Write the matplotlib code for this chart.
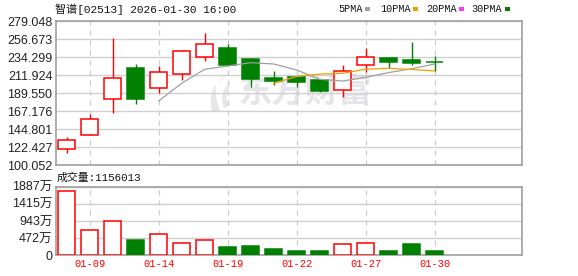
import numpy as np
import matplotlib
matplotlib.use('Agg')
from matplotlib import pyplot as plt
from matplotlib.patches import Rectangle, PathPatch
from matplotlib.path import Path

# datos (precios en HKD, volumen en 万)
dias = ['01-08', '01-09', '01-12', '01-13', '01-14', '01-15', '01-16', '01-19', '01-20',
        '01-21', '01-22', '01-23', '01-26', '01-27', '01-28', '01-29', '01-30']
apertura = [120.3, 138.3, 182.6, 220.9, 195.6, 213.0, 235.0, 245.8, 232.1,
            208.4, 209.3, 205.9, 193.5, 224.2, 233.3, 230.8, 228.0]
cierre = [131.2, 158.2, 208.0, 182.6, 215.5, 241.7, 250.4, 225.0, 207.5,
          205.0, 203.8, 192.6, 217.1, 234.2, 228.7, 227.5, 228.0]
maximo = [135.0, 164.4, 258.6, 225.9, 223.6, 243.2, 264.8, 250.8, 233.5,
          217.1, 209.5, 206.5, 224.6, 246.2, 233.3, 253.3, 235.8]
minimo = [115.4, 138.3, 165.2, 176.4, 190.2, 206.5, 229.2, 223.7, 197.6,
          200.4, 197.0, 191.3, 185.1, 215.5, 220.9, 225.0, 217.1]
volumen = [1760, 696, 943, 429, 578, 330, 421, 228, 256,
           182, 118, 118, 302, 330, 118, 311, 115.6]
sube = [True, True, True, False, True, True, True, False, False,
        False, False, False, True, True, False, False, False]

ma5 = [np.nan]*4 + [180.0, 202.0, 219.4, 223.5, 227.6, 226.0, 218.5, 207.0, 204.8,
                    209.4, 215.3, 220.0, 226.0]
ma10 = [np.nan]*9 + [202.0, 210.5, 213.4, 214.5, 219.5, 220.6, 219.2, 217.3]

ticks_precio = [100.052, 122.427, 144.801, 167.176, 189.550, 211.924, 234.299, 256.673, 279.048]
ticks_vol = [0, 471.75, 943.5, 1415.25, 1887]
etiquetas_vol = ['0', '472万', '943万', '1415万', '1887万']
dias_marcados = [1, 4, 7, 10, 13, 16]

titulo = '智谱[02513] 2026-01-30 16:00'
leyenda = ['5PMA', '10PMA', '20PMA', '30PMA']
colores_ma = ['#a0a0a0', '#f0a000', '#ff33ff', '#007a00']

rojo = '#ff0000'
verde = '#008000'
grilla = '#d0d0d0'
borde = '#a0a0a0'
marca = '#e5e5ea'
fuente_num = ['Liberation Sans', 'Noto Sans CJK SC']
fuente_mono = ['Liberation Mono', 'Noto Sans CJK SC']

x = np.arange(len(dias))
colores = [rojo if s else verde for s in sube]
rellenos = ['white' if s else verde for s in sube]

fig = plt.figure(figsize=(5.78, 2.76), dpi=100)
ax1 = fig.add_axes([56/578, 1-165.3/276, 466/578, 144/276])
ax2 = fig.add_axes([56/578, 1-255.3/276, 466/578, 68.6/276])

for ax in (ax1, ax2):
    ax.set_xlim(-0.465, 19.8)
    ax.set_axisbelow(True)
    ax.grid(axis='y', color=grilla, linewidth=1)
    for xm in dias_marcados:
        ax.axvline(xm, color='#cccccc', linewidth=0.9, linestyle=(0, (4, 4)), zorder=0.6)
    for s in ax.spines.values():
        s.set_color(borde)
        s.set_linewidth(1.2)
    ax.tick_params(length=0)

# velas
ax1.vlines(x, minimo, maximo, colors=colores, linewidth=1, zorder=2)
cuerpo_inf = np.minimum(apertura, cierre)
cuerpo_alt = np.abs(np.array(cierre) - np.array(apertura))
ax1.bar(x, cuerpo_alt, bottom=cuerpo_inf, width=0.72, color=rellenos,
        edgecolor=colores, linewidth=1.1, zorder=3)
ax1.plot(x, ma5, color=colores_ma[0], linewidth=0.9, zorder=4)
ax1.plot(x, ma10, color=colores_ma[1], linewidth=0.9, zorder=4)

ax1.set_ylim(ticks_precio[0], ticks_precio[-1])
ax1.set_yticks(ticks_precio)
ax1.set_yticklabels(['%.3f' % t for t in ticks_precio], family=fuente_num, fontsize=9, color='#222222')
ax1.set_xticks(dias_marcados)
ax1.set_xticklabels([])
ax1.tick_params(axis='y', pad=2.5)

# marca de agua (logo + texto)
ax1.text(0.39, 0.50, '东方财富', transform=ax1.transAxes, family=['Noto Sans CJK SC'],
         fontweight='bold', fontsize=24, color=marca, va='center', ha='left', zorder=0.1)
def px(a, b):
    return ((a - 56) / 466, (165.3 - b) / 144)
verts = [px(229, 73), px(206, 86), px(212, 112), px(221, 112),
         px(214, 98), px(216, 84), px(229, 73)]
codes = [Path.MOVETO, Path.CURVE3, Path.CURVE3, Path.LINETO,
         Path.CURVE3, Path.CURVE3, Path.CLOSEPOLY]
ax1.add_patch(PathPatch(Path(verts, codes), transform=ax1.transAxes,
                        facecolor=marca, edgecolor='none', zorder=0.1))
verts2 = [px(231, 82), px(218, 92), px(224, 108), px(229, 106),
          px(223, 96), px(231, 82)]
codes2 = [Path.MOVETO, Path.CURVE3, Path.CURVE3, Path.LINETO,
          Path.CURVE3, Path.CURVE3]
ax1.add_patch(PathPatch(Path(verts2, codes2), transform=ax1.transAxes,
                        facecolor=marca, edgecolor='none', zorder=0.1))

# volumen
ax2.bar(x, volumen, width=0.72, color=rellenos, edgecolor=colores, linewidth=1.1, zorder=3)
ax2.set_ylim(0, ticks_vol[-1])
ax2.set_yticks(ticks_vol)
ax2.set_yticklabels(etiquetas_vol, family=fuente_num, fontsize=9, color='#222222')
ax2.set_xticks(dias_marcados)
ax2.set_xticklabels([dias[i] for i in dias_marcados], family=fuente_mono, fontsize=7.5, color=rojo)
ax2.tick_params(axis='y', pad=2.5)
ax2.tick_params(axis='x', pad=3)

fig.text(55/578, 1-9.5/276, titulo, family=fuente_mono, fontsize=8, va='center', ha='left', color='#111111')
fig.text(57/578, 1-177.3/276, '成交量:1156013', family=fuente_mono, fontsize=7.8, va='center', ha='left', color='#111111')

pos_txt = [338, 380, 426, 471.5]
for p, t, c in zip(pos_txt, leyenda, colores_ma):
    fig.text(p/578, 1-9/276, t, family=fuente_mono, fontsize=7.3, va='center', ha='left', color='#111111')
    ancho = len(t)*6.0
    fig.patches.append(Rectangle(((p+ancho+3)/578, 1-10.5/276), 5/578, 3/276,
                                 transform=fig.transFigure, facecolor=c, edgecolor='none'))

plt.savefig('out.png', dpi=100)
